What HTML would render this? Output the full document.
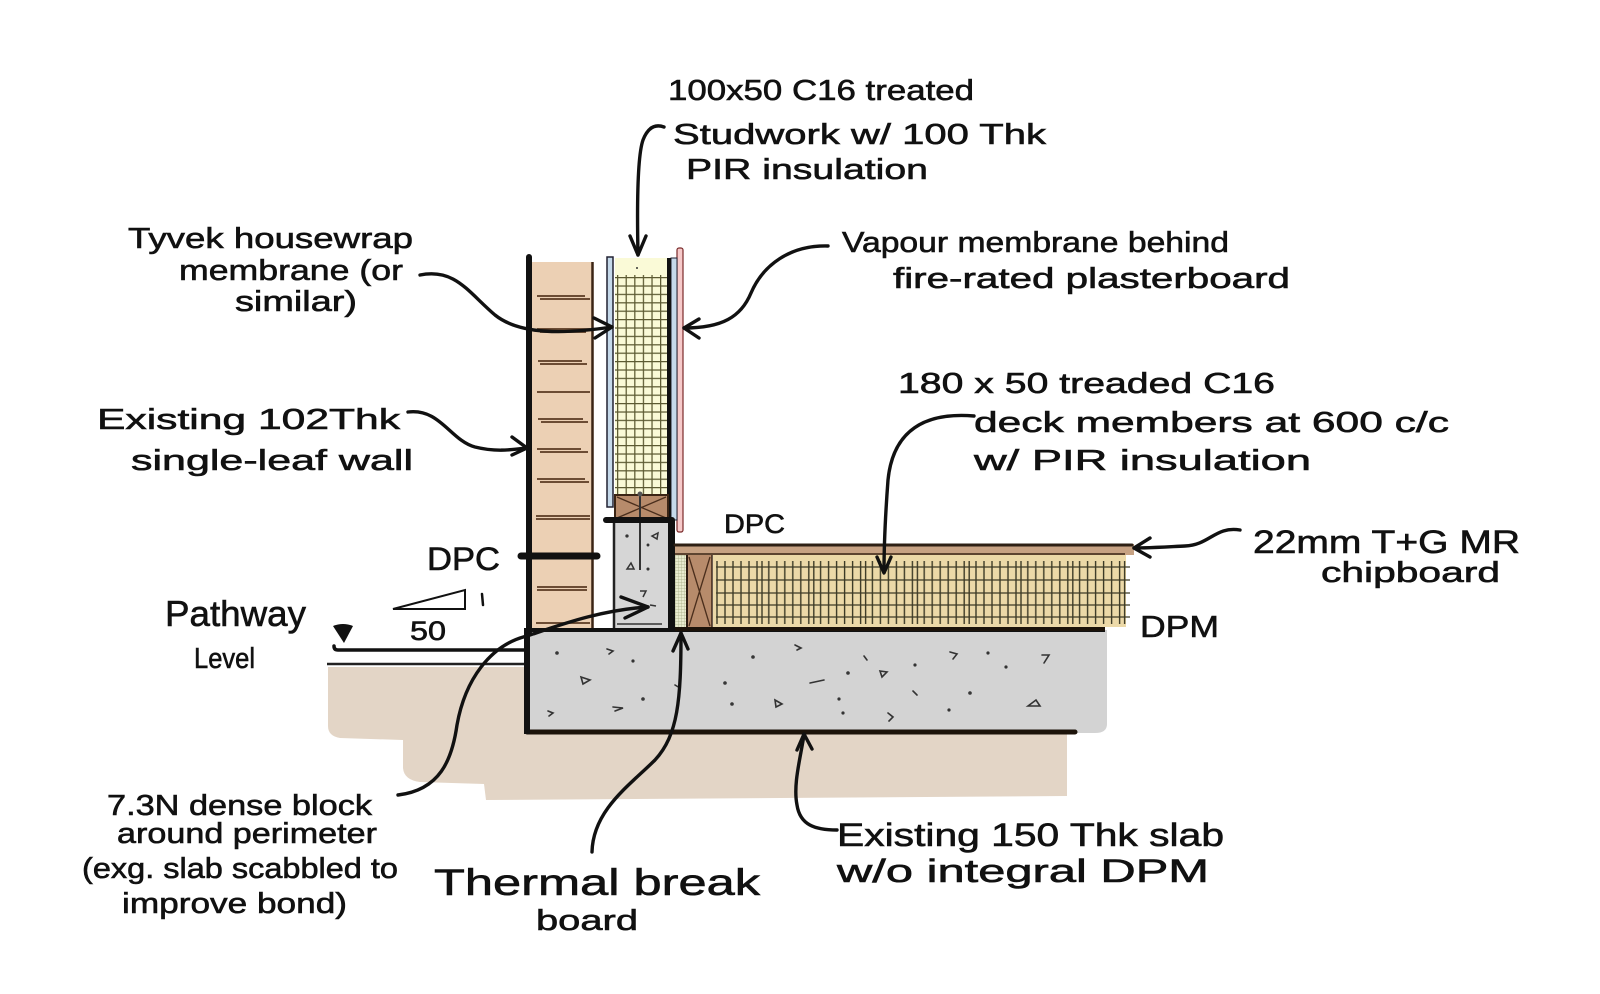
<!DOCTYPE html>
<html><head><meta charset="utf-8"><style>
html,body{margin:0;padding:0;background:#fff;}
svg{display:block;}
text{font-family:"Liberation Sans",sans-serif;fill:#111;stroke:#111;stroke-width:0.6;}
</style></head><body>
<svg width="1600" height="994" viewBox="0 0 1600 994" xmlns="http://www.w3.org/2000/svg">
<defs>
 <pattern id="sg" x="617" y="277" width="8.6" height="8.4" patternUnits="userSpaceOnUse"><path d="M0.6 0V8.4M0 0.6H8.6" stroke="#5c5a32" stroke-width="1.3" fill="none"/></pattern>
 <pattern id="fg" x="716" y="0" width="51.8" height="994" patternUnits="userSpaceOnUse"><path d="M1 561V624M9 561V624M17 561V624M25 561V624M33 561V624M41 561V624M46 561V624" stroke="#3c3a26" stroke-width="1.4"/></pattern>
 <pattern id="tg" x="0" y="0" width="3" height="3" patternUnits="userSpaceOnUse"><path d="M0 0H3M0 0V3" stroke="#a3a982" stroke-width="0.7"/></pattern>
</defs>

<!-- ground -->
<path d="M328 667 L540 667 L540 732 L1067 732 L1067 796 L486 800 L484 784 L420 782 Q404 780 403 768 L403 740 L340 738 Q328 736 328 726 Z" fill="#e3d5c6"/>
<line x1="327" y1="664" x2="525" y2="664" stroke="#222" stroke-width="2.5"/>
<!-- pathway line and marker -->
<path d="M334 646 Q334 650 338 650 L527 650" stroke="#111" stroke-width="3.5" fill="none" stroke-linecap="round"/>
<path d="M333 626 Q343 622 353 626 L344 643 Z" fill="#111"/>
<!-- slope -->
<path d="M393 609 L465 590 L465 609 Z" fill="none" stroke="#111" stroke-width="2"/>
<path d="M482 594 L483 605" stroke="#111" stroke-width="2.5" stroke-linecap="round"/>

<!-- slab -->
<path d="M527 630 L1107 630 L1107 724 Q1107 733 1095 733 L527 733 Z" fill="#d3d3d3"/>
<line x1="527" y1="630" x2="1105" y2="630" stroke="#111" stroke-width="4"/>
<line x1="527" y1="732" x2="1075" y2="732" stroke="#1c130a" stroke-width="5" stroke-linecap="round"/>
<line x1="527" y1="628" x2="527" y2="734" stroke="#111" stroke-width="6"/>
<!-- aggregate marks -->
<g stroke="#333" stroke-width="1.6" fill="none" stroke-linecap="round">
<path d="M795 645 L801 648 L797 650"/><circle cx="753" cy="657" r="1"/><path d="M864 656 L867 660"/>
<path d="M950 652 L957 654 L953 659"/><circle cx="988" cy="653" r="0.8"/><path d="M1042 655 L1049 655 L1044 663"/>
<circle cx="915" cy="665" r="0.8"/><circle cx="1006" cy="667" r="0.8"/><circle cx="725" cy="683" r="1"/>
<path d="M810 683 L824 680"/><circle cx="848" cy="673" r="1"/><path d="M880 671 L887 672 L882 677 Z"/>
<path d="M913 691 L917 695"/><circle cx="970" cy="693" r="1"/><circle cx="732" cy="704" r="1"/>
<path d="M775 700 L782 704 L776 707 Z"/><circle cx="839" cy="699" r="0.8"/><circle cx="843" cy="713" r="0.8"/>
<path d="M888 713 L893 717 L889 721"/><circle cx="949" cy="710" r="0.8"/><path d="M1028 706 L1036 700 L1040 706 Z"/>
<circle cx="557" cy="653" r="1"/><path d="M607 649 L613 651 L609 654"/><circle cx="633" cy="661" r="0.8"/>
<path d="M581 677 L590 680 L583 684 Z"/><circle cx="643" cy="699" r="1"/><path d="M613 707 L623 708 L615 711"/>
<path d="M548 711 L553 713 L549 716"/><path d="M675 685 L680 688"/>
</g>

<!-- brick wall -->
<rect x="532" y="262" width="60" height="366" fill="#ecd0b4"/>
<g stroke="#5a3a22" stroke-width="1.7">
<path d="M537 296H585M540 299H590"/><path d="M537 329H590M540 332H586"/><path d="M538 361H582M540 364H587"/>
<path d="M537 392H590"/><path d="M538 419H583M541 422H588"/><path d="M537 449H581M540 452H588"/>
<path d="M537 479H585M540 482H589"/><path d="M536 516H590M536 519H590"/><path d="M537 587H587M537 590H587"/>
<path d="M536 623H590"/>
</g>
<line x1="592.5" y1="262" x2="592.5" y2="628" stroke="#3b2414" stroke-width="2.5"/>
<line x1="529" y1="257" x2="529" y2="632" stroke="#111" stroke-width="6" stroke-linecap="round"/>
<!-- DPC bar -->
<line x1="521" y1="556" x2="597" y2="556" stroke="#111" stroke-width="7" stroke-linecap="round"/>

<!-- stud wall -->
<rect x="607" y="257" width="6" height="250" fill="#c5d9ea" stroke="#223" stroke-width="1.5"/>
<rect x="615" y="258" width="52" height="238" fill="#fafad7"/>
<rect x="615" y="275" width="52" height="219" fill="url(#sg)"/>
<circle cx="637" cy="268" r="1" fill="#333"/>
<rect x="677" y="248" width="6" height="284" rx="2" fill="#f6caca" stroke="#7a2a2a" stroke-width="1.2"/>
<rect x="671" y="258" width="6" height="262" fill="#c5d9ea" stroke="#223" stroke-width="1"/>
<line x1="669" y1="258" x2="669" y2="520" stroke="#111" stroke-width="4"/>
<!-- sole plate -->
<rect x="615" y="495" width="53" height="25" fill="#b78b6b" stroke="#3a2414" stroke-width="2"/>
<path d="M617 497 L666 518 M666 497 L617 518" stroke="#4a2e1c" stroke-width="1.3"/>
<!-- block -->
<rect x="614" y="520" width="54" height="108" fill="#d6d6d6"/>
<line x1="614" y1="520" x2="614" y2="628" stroke="#222" stroke-width="2.5"/>
<line x1="617" y1="624" x2="662" y2="624" stroke="#333" stroke-width="1.5"/>
<g stroke="#333" stroke-width="1.5" fill="none">
<circle cx="627" cy="536" r="0.9"/><path d="M652 536 L658 533 L657 539 Z"/><circle cx="648" cy="545" r="0.7"/>
<path d="M627 569 L631 563 L634 569 Z"/><circle cx="648" cy="569" r="0.8"/><path d="M640 591 L646 591 L643 597"/><path d="M650 605 L656 606"/>
</g>
<!-- bolt -->
<line x1="640" y1="494" x2="640" y2="570" stroke="#333" stroke-width="2"/>
<circle cx="640" cy="494" r="2.5" fill="#555"/>
<line x1="606" y1="520" x2="672" y2="520" stroke="#111" stroke-width="6" stroke-linecap="round"/>
<line x1="671.5" y1="520" x2="671.5" y2="632" stroke="#111" stroke-width="7"/>

<!-- floor -->
<rect x="675" y="544" width="459" height="11" fill="#c7a283"/>
<line x1="675" y1="545" x2="1132" y2="545" stroke="#2e2014" stroke-width="3" stroke-linecap="round"/>
<line x1="675" y1="554" x2="1125" y2="554" stroke="#3a2414" stroke-width="1.5"/>
<rect x="675" y="555" width="12" height="73" fill="#e9eccf"/>
<rect x="675" y="555" width="12" height="73" fill="url(#tg)"/>
<rect x="687" y="555" width="25" height="73" fill="#b78b6b"/>
<path d="M689 557 L710 626 M710 557 L689 626" stroke="#4a2e1c" stroke-width="1.3"/>
<line x1="687" y1="555" x2="687" y2="628" stroke="#2a1a10" stroke-width="2"/>
<line x1="712" y1="555" x2="712" y2="628" stroke="#3a2414" stroke-width="1.5"/>
<rect x="713" y="555" width="413" height="72" fill="#ecd9a8"/>
<rect x="713" y="555" width="417" height="72" fill="url(#fg)"/>
<path d="M716 567H1130M716 580H1130M716 593H1130M716 605H1130M716 617H1130" stroke="#3c3a26" stroke-width="1.3"/>
<line x1="675" y1="629" x2="1105" y2="629" stroke="#1c130a" stroke-width="4"/>

<!-- leaders -->
<g stroke="#111" stroke-width="3.4" fill="none" stroke-linecap="round" stroke-linejoin="round">
<path d="M664 127 Q650 122 643 140 Q636 160 638 255"/><path d="M630 236 L638 255 L646 236"/>
<path d="M420 275 C455 268 468 292 495 315 C520 335 565 334 612 327"/><path d="M594 318 L612 327 L595 338"/>
<path d="M828 246 C790 245 763 265 751 293 C741 317 722 328 684 328"/><path d="M699 319 L684 328 L699 338"/>
<path d="M408 412 C440 408 450 440 475 447 C495 452 510 450 527 448"/><path d="M512 437 L527 448 L512 455"/>
<path d="M974 416 C925 412 893 430 888 480 C885 520 884 550 884 572"/><path d="M877 557 L884 573 L891 557"/>
<path d="M1240 530 C1215 526 1210 545 1185 546 C1165 547 1150 548 1134 548"/><path d="M1150 538 L1134 548 L1150 557"/>
<path d="M398 795 C440 790 452 760 457 725 C465 680 490 645 527 636 C560 625 600 610 648 607"/><path d="M621 597 L648 607 L625 618"/>
<path d="M592 852 C593 810 630 785 655 760 C678 735 681 700 681 633"/><path d="M673 651 L681 633 L688 649"/>
<path d="M837 830 C815 830 800 825 797 805 C793 785 800 760 804 735"/><path d="M797 750 L804 734 L812 749"/>
</g>

<!-- text -->
<g font-size="29">
<text x="668" y="100" textLength="306" lengthAdjust="spacingAndGlyphs">100x50 C16 treated</text>
<text x="673" y="144" textLength="373" lengthAdjust="spacingAndGlyphs">Studwork w/ 100 Thk</text>
<text x="686" y="179" textLength="242" lengthAdjust="spacingAndGlyphs">PIR insulation</text>

<text x="128" y="248" textLength="285" lengthAdjust="spacingAndGlyphs">Tyvek housewrap</text>
<text x="179" y="280" textLength="224" lengthAdjust="spacingAndGlyphs">membrane (or</text>
<text x="235" y="311" textLength="122" lengthAdjust="spacingAndGlyphs">similar)</text>

<text x="842" y="252" textLength="387" lengthAdjust="spacingAndGlyphs">Vapour membrane behind</text>
<text x="893" y="288" textLength="397" lengthAdjust="spacingAndGlyphs">fire-rated plasterboard</text>

<text x="97" y="429" textLength="303" lengthAdjust="spacingAndGlyphs">Existing 102Thk</text>
<text x="131" y="470" textLength="282" lengthAdjust="spacingAndGlyphs">single-leaf wall</text>

<text x="898" y="393" textLength="377" lengthAdjust="spacingAndGlyphs">180 x 50 treaded C16</text>
<text x="974" y="432" textLength="475" lengthAdjust="spacingAndGlyphs">deck members at 600 c/c</text>
<text x="974" y="470" textLength="337" lengthAdjust="spacingAndGlyphs">w/ PIR insulation</text>

<text x="724" y="533" font-size="27" textLength="61" lengthAdjust="spacingAndGlyphs">DPC</text>
<text x="427" y="570" font-size="32" textLength="73" lengthAdjust="spacingAndGlyphs">DPC</text>
<text x="410" y="640" font-size="27" textLength="36" lengthAdjust="spacingAndGlyphs">50</text>

<text x="1253" y="553" font-size="32" textLength="267" lengthAdjust="spacingAndGlyphs">22mm T+G MR</text>
<text x="1321" y="582" textLength="179" lengthAdjust="spacingAndGlyphs">chipboard</text>
<text x="1140" y="637" font-size="31" textLength="79" lengthAdjust="spacingAndGlyphs">DPM</text>

<text x="165" y="626" font-size="36" textLength="141" lengthAdjust="spacingAndGlyphs">Pathway</text>
<text x="194" y="668" textLength="61" lengthAdjust="spacingAndGlyphs">Level</text>

<text x="107" y="815" textLength="265" lengthAdjust="spacingAndGlyphs">7.3N dense block</text>
<text x="117" y="843" textLength="260" lengthAdjust="spacingAndGlyphs">around perimeter</text>
<text x="82" y="878" textLength="316" lengthAdjust="spacingAndGlyphs">(exg. slab scabbled to</text>
<text x="122" y="913" textLength="225" lengthAdjust="spacingAndGlyphs">improve bond)</text>

<text x="434" y="895" font-size="37" textLength="326" lengthAdjust="spacingAndGlyphs">Thermal break</text>
<text x="536" y="930" textLength="102" lengthAdjust="spacingAndGlyphs">board</text>

<text x="837" y="846" font-size="32" textLength="387" lengthAdjust="spacingAndGlyphs">Existing 150 Thk slab</text>
<text x="837" y="882" font-size="32" textLength="372" lengthAdjust="spacingAndGlyphs">w/o integral DPM</text>
</g>
</svg>
</body></html>
